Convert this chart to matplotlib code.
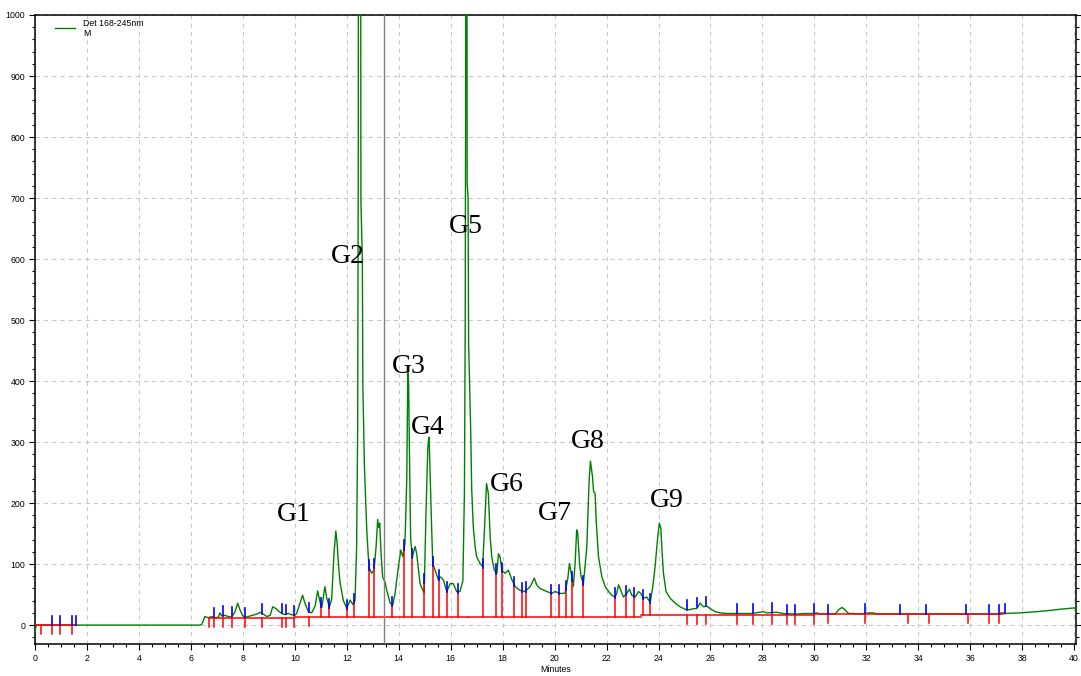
import numpy as np
import matplotlib.pyplot as plt
from matplotlib.ticker import MultipleLocator

# chromatogram trace (minutes, mAU)
time_min = [0.00, 0.05, 6.35, 6.42, 6.54, 6.67, 6.80, 6.93, 7.06, 7.12, 7.19, 7.31, 7.44, 7.57,
            7.70, 7.80, 7.89, 8.00, 8.15, 8.28, 8.54, 8.66, 8.79, 8.92, 9.05, 9.15, 9.28, 9.37,
            9.50, 9.62, 9.75, 9.88, 10.00, 10.07, 10.20, 10.30, 10.39, 10.52, 10.65, 10.78, 10.88,
            10.97, 11.04, 11.16, 11.23, 11.33, 11.42, 11.51, 11.58, 11.63, 11.68, 11.74, 11.87,
            12.00, 12.10, 12.13, 12.25, 12.32, 12.38, 12.42, 12.445, 12.45, 12.53, 12.545, 12.60,
            12.62, 12.68, 12.77, 12.83, 12.87, 12.96, 13.05, 13.13, 13.19, 13.23, 13.27, 13.32,
            13.38, 13.47, 13.54, 13.67, 13.77, 13.86, 13.99, 14.08, 14.16, 14.24, 14.31, 14.35,
            14.38, 14.41, 14.46, 14.53, 14.63, 14.69, 14.82, 14.98, 15.05, 15.12, 15.16, 15.18,
            15.25, 15.31, 15.40, 15.53, 15.59, 15.66, 15.72, 15.85, 15.98, 16.10, 16.23, 16.36,
            16.47, 16.53, 16.56, 16.575, 16.585, 16.62, 16.635, 16.67, 16.69, 16.77, 16.81, 16.87,
            16.94, 17.00, 17.13, 17.23, 17.30, 17.38, 17.45, 17.52, 17.58, 17.68, 17.78, 17.84,
            17.90, 17.97, 18.09, 18.22, 18.35, 18.48, 18.67, 18.86, 19.06, 19.22, 19.31, 19.44,
            19.70, 19.89, 20.02, 20.21, 20.40, 20.51, 20.57, 20.64, 20.72, 20.79, 20.85, 20.89,
            20.96, 21.02, 21.11, 21.24, 21.33, 21.38, 21.46, 21.50, 21.56, 21.60, 21.69, 21.82,
            21.95, 22.08, 22.20, 22.33, 22.39, 22.46, 22.52, 22.65, 22.78, 22.88, 22.97, 23.10,
            23.23, 23.32, 23.42, 23.55, 23.68, 23.78, 23.87, 23.96, 24.03, 24.09, 24.14, 24.19,
            24.29, 24.45, 24.64, 24.83, 25.02, 25.19, 25.34, 25.47, 25.60, 25.73, 25.86, 25.99,
            26.18, 26.37, 26.63, 27.21, 27.59, 28.04, 28.17, 28.55, 28.81, 29.32, 29.58, 29.96,
            30.09, 30.22, 30.80, 30.93, 31.06, 31.18, 31.31, 31.50, 31.76, 32.08, 32.27, 32.40,
            37.20, 37.34, 37.92, 38.56, 38.95, 39.46, 39.97, 40.07]
signal_mau = [-10, 0, 0, 1, 14, 12, 14, 12, 13, 20, 15, 16, 14, 13,
              22, 36, 25, 15, 13, 15, 18, 21, 18, 14, 16, 30, 27, 23,
              19, 17, 19, 17, 16, 19, 36, 49, 36, 22, 20, 31, 56,
              38, 29, 63, 44, 30, 42, 118, 154, 134, 100, 70, 40,
              28, 38, 41, 33, 41, 129, 320, 800, 1400, 1400, 693, 600,
              391, 260, 156, 112, 93, 85, 90, 129, 173, 160, 167, 118,
              79, 71, 57, 36, 33, 52, 96, 123, 112, 134, 238, 414,
              400, 293, 140, 112, 129, 118, 68, 52, 184, 290, 308, 293,
              184, 101, 90, 74, 79, 77, 74, 55, 68, 68, 55, 55,
              73, 220, 500, 840, 1400, 1400, 725, 700, 463, 320, 222, 161,
              129, 112, 101, 96, 156, 232, 216, 145, 112, 90, 85, 117,
              112, 90, 85, 90, 75, 63, 57, 55, 63, 77, 66, 60,
              55, 52, 55, 52, 52, 77, 101, 85, 63, 101, 156, 151,
              101, 79, 68, 128, 238, 269, 243, 219, 216, 172, 112, 79,
              63, 55, 49, 46, 52, 66, 60, 46, 52, 59, 49, 46,
              55, 52, 44, 46, 37, 63, 96, 140, 167, 159, 118, 85,
              55, 44, 36, 30, 26, 25, 27, 27, 36, 30, 31, 27,
              22, 20, 19, 19, 19, 22, 20, 21, 19, 18, 19, 19,
              20, 18, 18, 25, 29, 25, 19, 19, 18, 20, 20, 18,
              18, 19, 20, 22, 23.5, 26, 28, 28]

# integration baselines (start, end, level)
base_start = [0.05, 6.71, 9.98, 16.66, 23.33, 30.00, 37.20]
base_end = [1.59, 9.98, 16.66, 23.33, 30.00, 37.20, 37.34]
base_level = [0, 11, 12.6, 14, 16.4, 18, 19.5]

# peak events: U = drop line up to trace, D = tick below baseline, r = red only, b = blue only
mark_time = [0.23, 0.67, 0.97, 1.44, 1.59,
             6.71, 6.90, 7.25, 7.60, 8.10, 8.75, 9.50, 9.67, 9.98, 10.56,
             11.02, 11.33, 12.00, 12.29, 12.87, 13.06, 13.76, 14.21, 14.53, 14.99, 15.33,
             15.56, 15.87, 16.30, 17.23, 17.75, 17.99, 18.45, 18.76, 18.91, 19.85, 20.16,
             20.43, 20.68, 21.11, 22.34, 22.76, 23.04, 23.42, 23.66,
             25.11, 25.50, 25.82, 27.01, 27.65, 28.38, 28.96, 29.27, 30.00, 30.54, 31.93,
             33.28, 33.62, 34.28, 34.43, 35.84, 35.93, 36.74, 37.09, 37.34]
mark_kind = ['r', 'D', 'D', 'D', 'b',
             'r', 'D', 'D', 'D', 'D', 'D', 'D', 'D', 'D', 'D',
             'U', 'U', 'U', 'U', 'U', 'U', 'U', 'U', 'U', 'U', 'U',
             'U', 'U', 'U', 'U', 'U', 'U', 'U', 'U', 'U', 'U', 'U',
             'U', 'U', 'U', 'U', 'U', 'U', 'U', 'U',
             'D', 'D', 'D', 'D', 'D', 'D', 'D', 'D', 'D', 'D', 'D',
             'b', 'r', 'b', 'r', 'b', 'r', 'D', 'D', 'b']

peak_names = ['G1', 'G2', 'G3', 'G4', 'G5', 'G6', 'G7', 'G8', 'G9']
peak_label_t = [9.95, 12.05, 14.37, 15.12, 16.58, 18.16, 20.02, 21.26, 24.32]
peak_label_y = [185, 608, 428, 328, 657, 234, 187, 305, 209]


def baseline_at(t):
    for s, e, lv in zip(base_start, base_end, base_level):
        if s <= t <= e:
            return lv
    return 0


fig = plt.figure(figsize=(10.81, 6.76), dpi=100)
ax = fig.add_axes([35 / 1081, 1 - 644 / 676, 1041 / 1081, 629 / 676])

ax.plot(time_min, signal_mau, color='#008000', lw=1.0, zorder=3)

for s, e, lv in zip(base_start, base_end, base_level):
    ax.plot([s, e], [lv, lv], color='#ff0000', lw=1.1, zorder=4)

for t, k in zip(mark_time, mark_kind):
    b = baseline_at(t)
    sig = float(np.interp(t, time_min, signal_mau))
    if k == 'U':
        ax.plot([t, t], [b, sig], color='#ff0000', lw=1.1, zorder=4)
        ax.plot([t, t], [sig - 2, sig + 13], color='#0000ff', lw=1.2, zorder=5)
    else:
        if k in ('D', 'r'):
            ax.plot([t, t], [b - 14, b], color='#ff0000', lw=1.1, zorder=4)
        if k in ('D', 'b'):
            top = max(sig, b)
            ax.plot([t, t], [top, top + 15], color='#0000ff', lw=1.2, zorder=5)

ax.axvline(13.45, color='#808080', lw=1.0, zorder=6)

for name, t, y in zip(peak_names, peak_label_t, peak_label_y):
    ax.text(t, y - 15, name, ha='center', va='baseline', fontsize=20,
            family='Liberation Serif', color='black', zorder=7)

ax.set_xlim(0, 40.07)
ax.set_ylim(-31, 1000)
ax.xaxis.set_major_locator(MultipleLocator(2))
ax.xaxis.set_minor_locator(MultipleLocator(0.5))
ax.yaxis.set_major_locator(MultipleLocator(100))
ax.yaxis.set_minor_locator(MultipleLocator(20))
ax.tick_params(which='both', direction='out', right=True, labelsize=6.3, width=0.8, pad=3)
ax.tick_params(which='major', length=4)
ax.tick_params(which='minor', length=2.5)
for lab in ax.get_xticklabels() + ax.get_yticklabels():
    lab.set_family('Liberation Sans')
ax.grid(True, which='major', color='#c8c8c8', lw=0.75, linestyle=(0, (4, 4)), zorder=0)
ax.set_axisbelow(True)
for sp in ax.spines.values():
    sp.set_linewidth(1.1)
ax.set_xlabel('Minutes', fontsize=6.3, family='Liberation Sans', labelpad=2)

# legend drawn like the instrument software
fig.add_artist(plt.Line2D([55 / 1081, 75 / 1081], [1 - 28 / 676, 1 - 28 / 676],
                          color='#008000', lw=1.0))
fig.text(83 / 1081, 1 - 23 / 676, 'Det 168-245nm', fontsize=6.3, family='Liberation Sans', va='center')
fig.text(83 / 1081, 1 - 34 / 676, 'M', fontsize=6.3, family='Liberation Sans', va='center')

fig.savefig('out.png', dpi=100)
